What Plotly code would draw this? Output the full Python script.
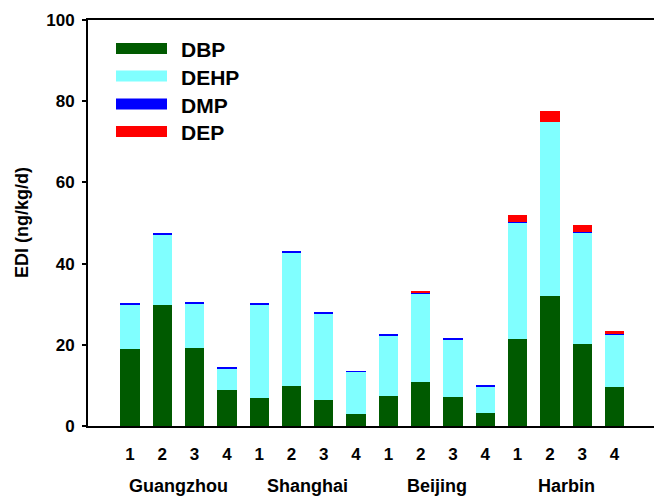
import plotly.graph_objects as go

cities = ["Guangzhou", "Shanghai", "Beijing", "Harbin"]
sites = ["1", "2", "3", "4"]

DBP = [18.9, 29.7, 19.1, 8.9, 6.8, 9.8, 6.4, 3.0, 7.3, 10.8, 7.1, 3.2, 21.4, 31.9, 20.3, 9.6]
DEHP = [11.1, 17.5, 11.1, 5.3, 23.2, 33.0, 21.4, 10.4, 14.9, 21.7, 14.2, 6.6, 28.7, 43.0, 27.3, 12.9]
DMP = [0.3, 0.3, 0.3, 0.2, 0.2, 0.2, 0.3, 0.1, 0.4, 0.5, 0.4, 0.3, 0.2, 0.1, 0.2, 0.1]
DEP = [0, 0, 0, 0, 0, 0, 0, 0, 0, 0.08, 0, 0, 1.7, 2.7, 1.6, 0.8]

series = [("DBP", DBP, "#005a00"), ("DEHP", DEHP, "#80ffff"),
          ("DMP", DMP, "#0000ff"), ("DEP", DEP, "#ff0000")]

n = len(cities) * len(sites)
xs = list(range(n))
ticktext = sites * len(cities)

W, H = 654, 496
ml, mr, mt, mb = 88, 0, 20, 70
pw, ph = W - ml - mr, H - mt - mb
x0 = -1.30
spacing = 32.3
x1 = x0 + pw / spacing

fig = go.Figure()
for name, vals, col in series:
    fig.add_trace(go.Bar(x=xs, y=vals, name=name, marker_color=col,
                         marker_line_width=0, width=0.6, showlegend=False))

FONT = "Arial, Liberation Sans, sans-serif"


def px2paper(px, py):
    return (px - ml) / pw, (H - mb - py) / ph


shapes = []
annotations = []
leg_y = [48.5, 76, 104, 131.5]
for (name, vals, col), cy in zip(series, leg_y):
    xa, ya = px2paper(116, cy - 5.5)
    xb, yb = px2paper(167, cy + 5.5)
    shapes.append(dict(type="rect", xref="paper", yref="paper", x0=xa, x1=xb,
                       y0=yb, y1=ya, fillcolor=col, line_width=0))
    tx, ty = px2paper(179, cy + 1)
    annotations.append(dict(text="<b>%s</b>" % name, xref="paper", yref="paper",
                            x=tx, y=ty, xanchor="left", yanchor="middle",
                            showarrow=False, font=dict(size=21, color="black", family=FONT)))

for gi, c in enumerate(cities):
    xc = gi * len(sites) + (len(sites) - 1) / 2
    annotations.append(dict(text="<b>%s</b>" % c, xref="x", yref="paper",
                            x=xc, y=-(486 - (H - mb)) / ph, xanchor="center", yanchor="middle",
                            showarrow=False, font=dict(size=18, color="black", family=FONT)))

tx, ty = px2paper(22, 223)
annotations.append(dict(text="<b>EDI (ng/kg/d)</b>", xref="paper", yref="paper",
                        x=tx, y=ty, xanchor="center", yanchor="middle", textangle=-90,
                        showarrow=False, font=dict(size=18, color="black", family=FONT)))

fig.update_layout(
    barmode="stack",
    width=W, height=H,
    margin=dict(l=ml, r=mr, t=mt, b=mb, pad=0),
    paper_bgcolor="white", plot_bgcolor="white",
    font=dict(family=FONT, color="black", size=17),
    shapes=shapes, annotations=annotations,
    xaxis=dict(range=[x0, x1], tickmode="array", tickvals=xs,
               ticktext=["<b>%s</b>" % t for t in ticktext],
               showline=True, linecolor="black", linewidth=2, mirror=True,
               ticks="", showgrid=False, zeroline=False,
               tickfont=dict(size=17, family=FONT), ticklabelstandoff=12),
    yaxis=dict(range=[0, 100], tickvals=[0, 20, 40, 60, 80, 100],
               ticktext=["<b>%d</b>" % v for v in [0, 20, 40, 60, 80, 100]],
               showline=True, linecolor="black", linewidth=2,
               ticks="outside", ticklen=4, tickwidth=2, tickcolor="black",
               showgrid=False, zeroline=False,
               tickfont=dict(size=17, family=FONT), ticklabelstandoff=4),
)

fig.write_html("out.html")
